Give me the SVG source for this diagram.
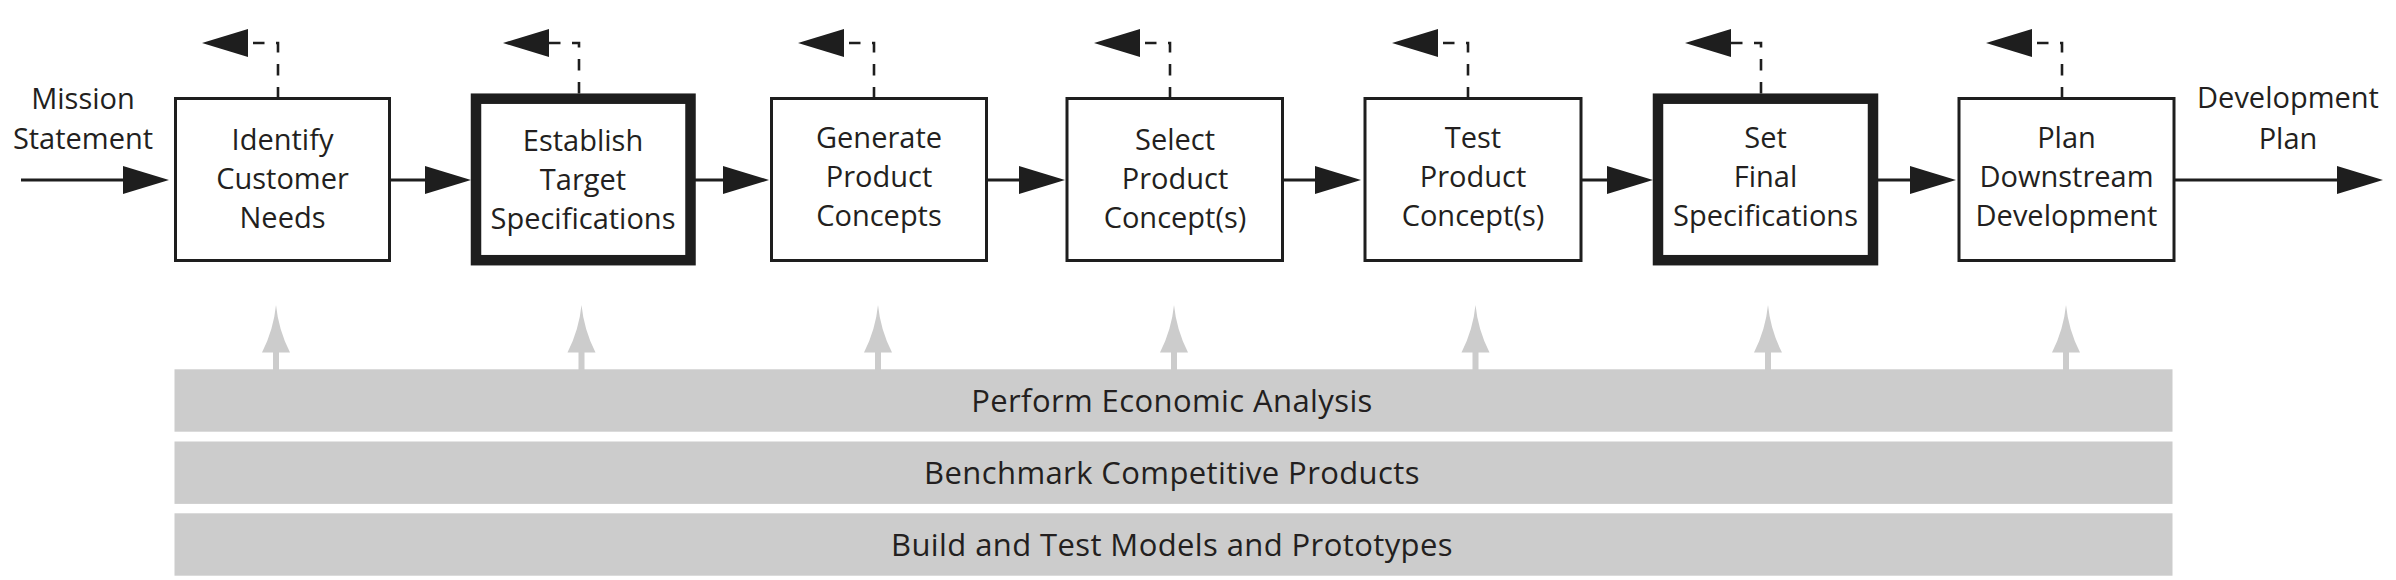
<svg xmlns="http://www.w3.org/2000/svg" width="2396" height="580" viewBox="0 0 2396 580">
  <style>
    .box { fill: #ffffff; stroke: #1e1e1e; stroke-width: 3; }
    .thick { fill: #ffffff; stroke: #1e1e1e; stroke-width: 10.5; }
    .lbl { font-family: "Open Sans", "Liberation Sans", sans-serif; font-size: 29px; fill: #231f20; text-anchor: middle; }
    .band { fill: #cccccc; }
    .bandlbl { font-family: "Open Sans", "Liberation Sans", sans-serif; font-size: 31px; letter-spacing: 0.4px; fill: #231f20; text-anchor: middle; }
    .flow { fill: none; stroke: #1e1e1e; stroke-width: 3; marker-end: url(#ah); }
    .fb { fill: none; stroke: #1e1e1e; stroke-width: 2.6; stroke-dasharray: 11.5 11.5; marker-end: url(#ah); }
    .up { fill: #cccccc; }
  </style>
  <defs>
    <marker id="ah" markerUnits="userSpaceOnUse" markerWidth="46" markerHeight="28" viewBox="0 0 46 28" refX="10" refY="14" orient="auto">
      <path d="M0,0 L46,14 L0,28 z" fill="#1e1e1e"/>
    </marker>
    <path id="uparrow" d="M0,305 Q2.5,330 14,352.5 L3,352.5 L3,370 L-3,370 L-3,352.5 L-14,352.5 Q-2.5,330 0,305 z"/>
  </defs>

  <g id="connectors">
    <path class="flow" d="M21,180 H133"/>
    <path class="flow" d="M390,180 H435"/>
    <path class="flow" d="M690,180 H733"/>
    <path class="flow" d="M986.5,180 H1029"/>
    <path class="flow" d="M1282.5,180 H1325"/>
    <path class="flow" d="M1581,180 H1617"/>
    <path class="flow" d="M1873,180 H1920"/>
    <path class="flow" d="M2174,180 H2347"/>

    <path class="fb" d="M278,98.5 V43 H238"/>
    <path class="fb" d="M579,93.5 V43 H539"/>
    <path class="fb" d="M874,98.5 V43 H834"/>
    <path class="fb" d="M1170,98.5 V43 H1130"/>
    <path class="fb" d="M1468,98.5 V43 H1428"/>
    <path class="fb" d="M1761,93.5 V43 H1721"/>
    <path class="fb" d="M2062,98.5 V43 H2022"/>

    <g class="up">
      <use href="#uparrow" x="276"/>
      <use href="#uparrow" x="581.5"/>
      <use href="#uparrow" x="878"/>
      <use href="#uparrow" x="1174"/>
      <use href="#uparrow" x="1475.5"/>
      <use href="#uparrow" x="1768"/>
      <use href="#uparrow" x="2066"/>
    </g>
  </g>

  <g id="mission">
    <text class="lbl" x="83" y="109">Mission</text>
    <text class="lbl" x="83" y="149">Statement</text>
  </g>
  <g id="devplan">
    <text class="lbl" x="2288" y="108">Development</text>
    <text class="lbl" x="2288" y="149">Plan</text>
  </g>

  <g id="identify">
    <rect class="box" x="175.5" y="98.5" width="214" height="162"/>
    <text class="lbl" x="282.5" y="150">Identify</text>
    <text class="lbl" x="282.5" y="189">Customer</text>
    <text class="lbl" x="282.5" y="228">Needs</text>
  </g>
  <g id="establish">
    <rect class="thick" x="476" y="98.7" width="214.5" height="161.5"/>
    <text class="lbl" x="583" y="151">Establish</text>
    <text class="lbl" x="583" y="190">Target</text>
    <text class="lbl" x="583" y="229">Specifications</text>
  </g>
  <g id="generate">
    <rect class="box" x="771.5" y="98.5" width="215" height="162"/>
    <text class="lbl" x="879" y="148">Generate</text>
    <text class="lbl" x="879" y="187">Product</text>
    <text class="lbl" x="879" y="226">Concepts</text>
  </g>
  <g id="select">
    <rect class="box" x="1067" y="98.5" width="215.5" height="162"/>
    <text class="lbl" x="1175" y="150">Select</text>
    <text class="lbl" x="1175" y="189">Product</text>
    <text class="lbl" x="1175" y="228">Concept(s)</text>
  </g>
  <g id="test">
    <rect class="box" x="1365" y="98.5" width="216" height="162"/>
    <text class="lbl" x="1473" y="148">Test</text>
    <text class="lbl" x="1473" y="187">Product</text>
    <text class="lbl" x="1473" y="226">Concept(s)</text>
  </g>
  <g id="setfinal">
    <rect class="thick" x="1658" y="98.7" width="215" height="161.5"/>
    <text class="lbl" x="1765.5" y="148">Set</text>
    <text class="lbl" x="1765.5" y="187">Final</text>
    <text class="lbl" x="1765.5" y="226">Specifications</text>
  </g>
  <g id="plan">
    <rect class="box" x="1959" y="98.5" width="215" height="162"/>
    <text class="lbl" x="2066.5" y="148">Plan</text>
    <text class="lbl" x="2066.5" y="187">Downstream</text>
    <text class="lbl" x="2066.5" y="226">Development</text>
  </g>

  <g id="economic">
    <rect class="band" x="174.5" y="369.3" width="1998" height="62.4"/>
    <text class="bandlbl" x="1172" y="411.5">Perform Economic Analysis</text>
  </g>
  <g id="benchmark">
    <rect class="band" x="174.5" y="441.5" width="1998" height="62.4"/>
    <text class="bandlbl" x="1172" y="483.5">Benchmark Competitive Products</text>
  </g>
  <g id="build">
    <rect class="band" x="174.5" y="513.3" width="1998" height="62.4"/>
    <text class="bandlbl" x="1172" y="555.5">Build and Test Models and Prototypes</text>
  </g>
</svg>
